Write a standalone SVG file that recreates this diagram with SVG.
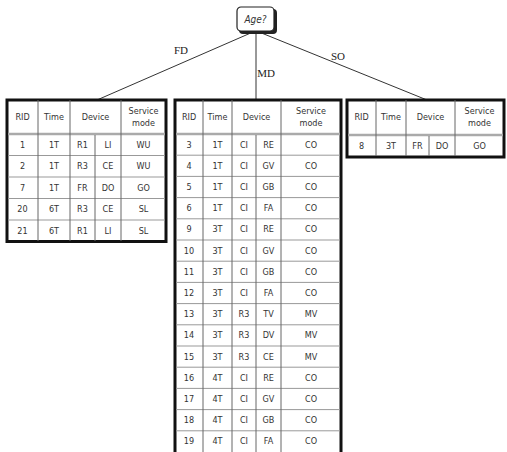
<svg xmlns="http://www.w3.org/2000/svg" width="507" height="452" viewBox="0 0 507 452">
<style>
.t{font-family:"Liberation Sans Narrow","DejaVu Sans Condensed","Liberation Sans",sans-serif;font-size:9px;fill:#333;text-anchor:middle;dominant-baseline:central}
.lbl{font-family:"Liberation Serif",serif;font-size:11px;fill:#222;text-anchor:middle;dominant-baseline:central}
.outer{fill:#fff;stroke:#111;stroke-width:3}
.v{stroke:#666;stroke-width:1}
.h{stroke:#999;stroke-width:1}
.hh{stroke:#aaa;stroke-width:2.5}
.edge{stroke:#333;stroke-width:1;fill:none}
</style>
<rect width="507" height="452" fill="#fff"/>
<g id="connectors">
<line class="edge" x1="253" y1="32" x2="97" y2="100"/>
<line class="edge" x1="256" y1="32" x2="256" y2="100"/>
<line class="edge" x1="259" y1="32" x2="427" y2="100"/>
<text class="lbl" x="181" y="50">FD</text>
<text class="lbl" x="266" y="73">MD</text>
<text class="lbl" x="338" y="56">SO</text>
</g>
<g id="root">
<rect x="239" y="9" width="38" height="25" rx="4" fill="#222"/>
<rect x="237" y="7" width="37" height="24" rx="4" fill="#fff" stroke="#222" stroke-width="1.2"/>
<text class="t" x="255.5" y="19.5" style="font-size:10px;font-style:italic">Age?</text>
</g>
<g id="tableFD">
<rect class="outer" x="7" y="100" width="159" height="141.5"/>
<line class="hh" x1="8" y1="134" x2="165" y2="134"/>
<line class="h" x1="8" y1="155.5" x2="165" y2="155.5"/>
<line class="h" x1="8" y1="177" x2="165" y2="177"/>
<line class="h" x1="8" y1="198.5" x2="165" y2="198.5"/>
<line class="h" x1="8" y1="220" x2="165" y2="220"/>
<line class="v" x1="38" y1="100" x2="38" y2="241"/>
<line class="v" x1="70" y1="100" x2="70" y2="241"/>
<line class="v" x1="95" y1="135" x2="95" y2="241"/>
<line class="v" x1="121" y1="100" x2="121" y2="241"/>
<text class="t" x="22.5" y="117">RID</text><text class="t" x="54" y="117">Time</text><text class="t" x="95.5" y="117">Device</text><text class="t" x="143.5" y="111">Service</text><text class="t" x="143.5" y="123">mode</text>
<g transform="translate(0,144.75)"><text class="t" x="22.5">1</text><text class="t" x="54">1T</text><text class="t" x="82.5">R1</text><text class="t" x="108">LI</text><text class="t" x="143.5">WU</text></g>
<g transform="translate(0,166.25)"><text class="t" x="22.5">2</text><text class="t" x="54">1T</text><text class="t" x="82.5">R3</text><text class="t" x="108">CE</text><text class="t" x="143.5">WU</text></g>
<g transform="translate(0,187.75)"><text class="t" x="22.5">7</text><text class="t" x="54">1T</text><text class="t" x="82.5">FR</text><text class="t" x="108">DO</text><text class="t" x="143.5">GO</text></g>
<g transform="translate(0,209.25)"><text class="t" x="22.5">20</text><text class="t" x="54">6T</text><text class="t" x="82.5">R3</text><text class="t" x="108">CE</text><text class="t" x="143.5">SL</text></g>
<g transform="translate(0,230.75)"><text class="t" x="22.5">21</text><text class="t" x="54">6T</text><text class="t" x="82.5">R1</text><text class="t" x="108">LI</text><text class="t" x="143.5">SL</text></g>
</g>
<g id="tableMD">
<rect class="outer" x="175" y="100" width="166" height="354"/>
<line class="hh" x1="176" y1="134" x2="340" y2="134"/>
<line class="h" x1="176" y1="155.2" x2="340" y2="155.2"/>
<line class="h" x1="176" y1="176.4" x2="340" y2="176.4"/>
<line class="h" x1="176" y1="197.6" x2="340" y2="197.6"/>
<line class="h" x1="176" y1="218.8" x2="340" y2="218.8"/>
<line class="h" x1="176" y1="240" x2="340" y2="240"/>
<line class="h" x1="176" y1="261.2" x2="340" y2="261.2"/>
<line class="h" x1="176" y1="282.4" x2="340" y2="282.4"/>
<line class="h" x1="176" y1="303.6" x2="340" y2="303.6"/>
<line class="h" x1="176" y1="324.8" x2="340" y2="324.8"/>
<line class="h" x1="176" y1="346" x2="340" y2="346"/>
<line class="h" x1="176" y1="367.2" x2="340" y2="367.2"/>
<line class="h" x1="176" y1="388.4" x2="340" y2="388.4"/>
<line class="h" x1="176" y1="409.6" x2="340" y2="409.6"/>
<line class="h" x1="176" y1="430.8" x2="340" y2="430.8"/>
<line class="v" x1="203" y1="100" x2="203" y2="452"/>
<line class="v" x1="232" y1="100" x2="232" y2="452"/>
<line class="v" x1="256" y1="135" x2="256" y2="452"/>
<line class="v" x1="281" y1="100" x2="281" y2="452"/>
<text class="t" x="189" y="117">RID</text><text class="t" x="217.5" y="117">Time</text><text class="t" x="256.5" y="117">Device</text><text class="t" x="311" y="111">Service</text><text class="t" x="311" y="123">mode</text>
<g transform="translate(0,144.6)"><text class="t" x="189">3</text><text class="t" x="217.5">1T</text><text class="t" x="244">CI</text><text class="t" x="268.5">RE</text><text class="t" x="311">CO</text></g>
<g transform="translate(0,165.8)"><text class="t" x="189">4</text><text class="t" x="217.5">1T</text><text class="t" x="244">CI</text><text class="t" x="268.5">GV</text><text class="t" x="311">CO</text></g>
<g transform="translate(0,187)"><text class="t" x="189">5</text><text class="t" x="217.5">1T</text><text class="t" x="244">CI</text><text class="t" x="268.5">GB</text><text class="t" x="311">CO</text></g>
<g transform="translate(0,208.2)"><text class="t" x="189">6</text><text class="t" x="217.5">1T</text><text class="t" x="244">CI</text><text class="t" x="268.5">FA</text><text class="t" x="311">CO</text></g>
<g transform="translate(0,229.4)"><text class="t" x="189">9</text><text class="t" x="217.5">3T</text><text class="t" x="244">CI</text><text class="t" x="268.5">RE</text><text class="t" x="311">CO</text></g>
<g transform="translate(0,250.6)"><text class="t" x="189">10</text><text class="t" x="217.5">3T</text><text class="t" x="244">CI</text><text class="t" x="268.5">GV</text><text class="t" x="311">CO</text></g>
<g transform="translate(0,271.8)"><text class="t" x="189">11</text><text class="t" x="217.5">3T</text><text class="t" x="244">CI</text><text class="t" x="268.5">GB</text><text class="t" x="311">CO</text></g>
<g transform="translate(0,293)"><text class="t" x="189">12</text><text class="t" x="217.5">3T</text><text class="t" x="244">CI</text><text class="t" x="268.5">FA</text><text class="t" x="311">CO</text></g>
<g transform="translate(0,314.2)"><text class="t" x="189">13</text><text class="t" x="217.5">3T</text><text class="t" x="244">R3</text><text class="t" x="268.5">TV</text><text class="t" x="311">MV</text></g>
<g transform="translate(0,335.4)"><text class="t" x="189">14</text><text class="t" x="217.5">3T</text><text class="t" x="244">R3</text><text class="t" x="268.5">DV</text><text class="t" x="311">MV</text></g>
<g transform="translate(0,356.6)"><text class="t" x="189">15</text><text class="t" x="217.5">3T</text><text class="t" x="244">R3</text><text class="t" x="268.5">CE</text><text class="t" x="311">MV</text></g>
<g transform="translate(0,377.8)"><text class="t" x="189">16</text><text class="t" x="217.5">4T</text><text class="t" x="244">CI</text><text class="t" x="268.5">RE</text><text class="t" x="311">CO</text></g>
<g transform="translate(0,399)"><text class="t" x="189">17</text><text class="t" x="217.5">4T</text><text class="t" x="244">CI</text><text class="t" x="268.5">GV</text><text class="t" x="311">CO</text></g>
<g transform="translate(0,420.2)"><text class="t" x="189">18</text><text class="t" x="217.5">4T</text><text class="t" x="244">CI</text><text class="t" x="268.5">GB</text><text class="t" x="311">CO</text></g>
<g transform="translate(0,441.4)"><text class="t" x="189">19</text><text class="t" x="217.5">4T</text><text class="t" x="244">CI</text><text class="t" x="268.5">FA</text><text class="t" x="311">CO</text></g>
</g>
<g id="tableSO">
<rect class="outer" x="347" y="100" width="157" height="57"/>
<line class="hh" x1="348" y1="135" x2="503" y2="135"/>
<line class="v" x1="376" y1="100" x2="376" y2="156"/>
<line class="v" x1="406" y1="100" x2="406" y2="156"/>
<line class="v" x1="429" y1="136" x2="429" y2="156"/>
<line class="v" x1="455" y1="100" x2="455" y2="156"/>
<text class="t" x="361.5" y="117">RID</text><text class="t" x="391" y="117">Time</text><text class="t" x="430.5" y="117">Device</text><text class="t" x="479.5" y="111">Service</text><text class="t" x="479.5" y="123">mode</text>
<g transform="translate(0,146)"><text class="t" x="361.5">8</text><text class="t" x="391">3T</text><text class="t" x="417.5">FR</text><text class="t" x="442">DO</text><text class="t" x="479.5">GO</text></g>
</g>
</svg>
